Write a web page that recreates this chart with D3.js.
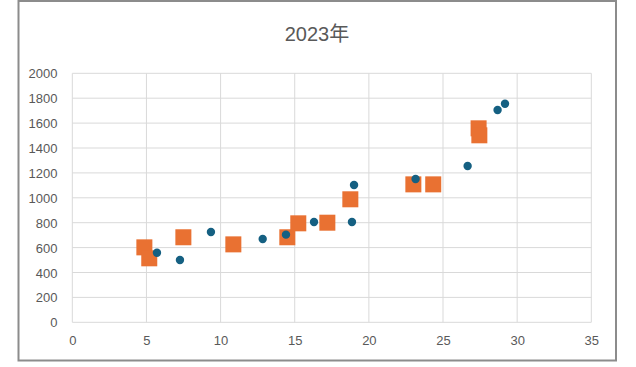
<!DOCTYPE html>
<html>
<head>
<meta charset="utf-8">
<script src="https://cdn.jsdelivr.net/npm/d3@7"></script>
<style>
  html, body { margin: 0; padding: 0; background: #fff; }
  svg { display: block; font-family: "Liberation Sans", Arial, "Noto Sans CJK JP", sans-serif; }
</style>
</head>
<body>
<svg id="chart" width="636" height="367"></svg>
<script>
const title = "2023年";
const xTicks = [0, 5, 10, 15, 20, 25, 30, 35];
const yTicks = [0, 200, 400, 600, 800, 1000, 1200, 1400, 1600, 1800, 2000];

// Series A (orange squares)
const seriesAX = [4.86, 5.19, 7.49, 10.86, 14.5, 15.24, 17.2, 18.75, 23.0, 24.34, 27.4, 27.45];
const seriesAY = [602, 514, 683, 626, 683, 795, 800, 988, 1108, 1108, 1558, 1502];
// Series B (blue circles)
const seriesBX = [5.71, 7.26, 9.35, 12.84, 14.41, 16.3, 18.86, 19.0, 23.15, 26.66, 28.68, 29.18];
const seriesBY = [559, 500, 725, 669, 704, 806, 806, 1103, 1151, 1255, 1705, 1756];

const W = 636, H = 367;
const plot = { left: 72.3, right: 591.3, top: 73.3, bottom: 322.3 };
const svg = d3.select("#chart");

svg.append("rect").attr("x", 18.5).attr("y", 1).attr("width", 597.5).attr("height", 359.5)
  .attr("fill", "#fff").attr("stroke", "#8c8c8c").attr("stroke-width", 2);

const x = d3.scaleLinear().domain([0, 35]).range([plot.left, plot.right]);
const y = d3.scaleLinear().domain([0, 2000]).range([plot.bottom, plot.top]);

const grid = svg.append("g");
grid.selectAll("line.h").data(yTicks).join("line")
  .attr("x1", plot.left).attr("x2", plot.right)
  .attr("y1", d => y(d)).attr("y2", d => y(d))
  .attr("stroke", "#d9d9d9").attr("stroke-width", 1);
grid.selectAll("line.v").data(xTicks).join("line")
  .attr("y1", plot.top).attr("y2", plot.bottom)
  .attr("x1", d => x(d)).attr("x2", d => x(d))
  .attr("stroke", "#d9d9d9").attr("stroke-width", 1);

const yAxis = svg.append("g").attr("transform", `translate(${plot.left - 14.8},0)`)
  .call(d3.axisLeft(y).tickValues(yTicks).tickFormat(d3.format("d")).tickSize(0).tickPadding(0));
yAxis.select(".domain").remove();
yAxis.selectAll("text").attr("fill", "#595959").attr("font-size", 13).attr("dy", "0.35em")
  .attr("font-family", "'Liberation Sans', Arial, sans-serif");

const xAxis = svg.append("g").attr("transform", `translate(0,${plot.bottom + 13})`)
  .call(d3.axisBottom(x).tickValues(xTicks).tickFormat(d3.format("d")).tickSize(0).tickPadding(0));
xAxis.select(".domain").remove();
xAxis.selectAll("text").attr("fill", "#595959").attr("font-size", 13)
  .attr("font-family", "'Liberation Sans', Arial, sans-serif");

svg.append("text").attr("x", 317).attr("y", 35.5).attr("text-anchor", "middle")
  .attr("dominant-baseline", "middle")
  .attr("font-size", 20).attr("fill", "#595959").text(title);

const sq = 16;
const dataA = seriesAX.map((v, i) => ({ x: v, y: seriesAY[i] }));
const dataB = seriesBX.map((v, i) => ({ x: v, y: seriesBY[i] }));

svg.append("g").selectAll("rect").data(dataA).join("rect")
  .attr("x", d => x(d.x) - sq / 2).attr("y", d => y(d.y) - sq / 2)
  .attr("width", sq).attr("height", sq)
  .attr("fill", "#E97132");

svg.append("g").selectAll("circle").data(dataB).join("circle")
  .attr("cx", d => x(d.x)).attr("cy", d => y(d.y)).attr("r", 4.2)
  .attr("fill", "#156082");
</script>
</body>
</html>
